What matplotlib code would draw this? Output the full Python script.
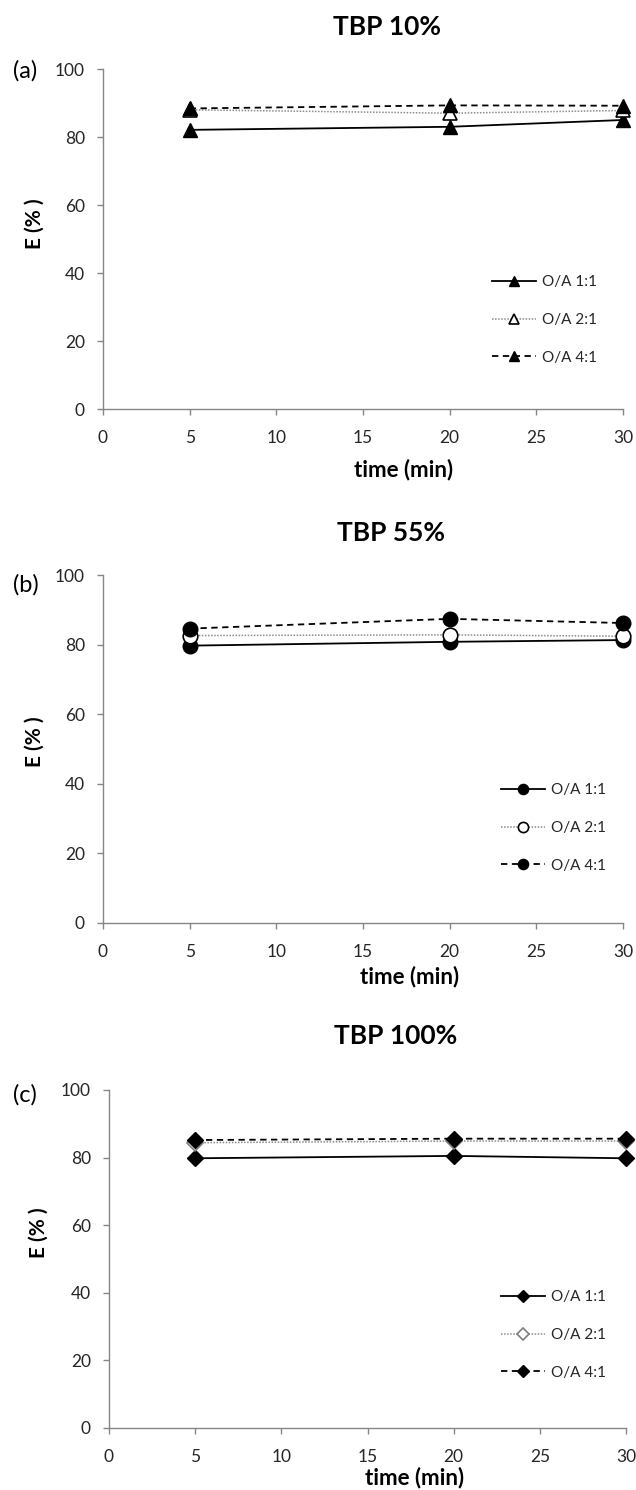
import matplotlib; matplotlib.use("Agg"); import matplotlib.pyplot as plt

plt.rcParams['font.family'] = ['Lato', 'DejaVu Sans']

# ═══════ Data ═══════
time_min = [5, 20, 30]
series_labels = ["O/A 1:1", "O/A 2:1", "O/A 4:1"]

tbp10_oa11 = [82.1, 83.0, 85.0]
tbp10_oa21 = [88.0, 87.0, 87.8]
tbp10_oa41 = [88.4, 89.3, 89.2]

tbp55_oa11 = [79.7, 80.8, 81.3]
tbp55_oa21 = [82.6, 82.8, 82.4]
tbp55_oa41 = [84.6, 87.4, 86.2]

tbp100_oa11 = [79.8, 80.5, 79.8]
tbp100_oa21 = [84.4, 84.9, 84.9]
tbp100_oa41 = [85.2, 85.6, 85.6]

titles = ["TBP 10%", "TBP 55%", "TBP 100%"]
tags = ["(a)", "(b)", "(c)"]
x_ticks = [0, 5, 10, 15, 20, 25, 30]
y_ticks = [0, 20, 40, 60, 80, 100]

# ═══════ Layout (pixels of a 636x1490 canvas) ═══════
W, H = 636, 1490
fx = lambda px: px / W
fy = lambda py: 1 - py / H

panels = [
    # data, marker, open-marker edge, axes box (l, r, top, bottom), title xy, tag xy, xlabel xy, ylabel y, legend anchor
    dict(data=(tbp10_oa11, tbp10_oa21, tbp10_oa41), m="^", ms=10, ec2="black",
         box=(103, 623, 69, 409), title=(387, 27), tag=(25, 71), xlab=(404, 470),
         ylab=(35, 224), leg=(492, 320)),
    dict(data=(tbp55_oa11, tbp55_oa21, tbp55_oa41), m="o", ms=10.5, ec2="black",
         box=(103, 623, 575, 923), title=(391, 533), tag=(26, 585), xlab=(410, 977),
         ylab=(35, 742), leg=(501, 828)),
    dict(data=(tbp100_oa11, tbp100_oa21, tbp100_oa41), m="D", ms=8.5, ec2="#7f7f7f",
         box=(109, 626, 1090, 1428), title=(396, 1036), tag=(25, 1095), xlab=(415, 1478),
         ylab=(39, 1233), leg=(501, 1335)),
]

txt = "#262626"
grey = "#868686"

fig = plt.figure(figsize=(W / 100, H / 100), dpi=100)

for i, p in enumerate(panels):
    l, r, t, b = p["box"]
    ax = fig.add_axes([fx(l), fy(b), fx(r) - fx(l), fy(t) - fy(b)])
    s11, s21, s41 = p["data"]

    h1, = ax.plot(time_min, s11, color="black", lw=1.3, ls="-",
                  marker=p["m"], ms=p["ms"], mfc="black", mec="black", clip_on=False, zorder=3)
    h2, = ax.plot(time_min, s21, color="#8c8c8c", lw=1.1, ls=(0, (1, 1)),
                  marker=p["m"], ms=p["ms"], mfc="white", mec=p["ec2"], mew=1.2,
                  clip_on=False, zorder=4)
    h3, = ax.plot(time_min, s41, color="black", lw=1.3, ls=(0, (3.5, 2.5)),
                  marker=p["m"], ms=p["ms"], mfc="black", mec="black", clip_on=False, zorder=5)

    ax.set_xlim(0, 30)
    ax.set_ylim(0, 100)
    ax.set_xticks(x_ticks)
    ax.set_yticks(y_ticks)
    for side in ("top", "right"):
        ax.spines[side].set_visible(False)
    for side in ("left", "bottom"):
        ax.spines[side].set_color(grey)
        ax.spines[side].set_linewidth(1.0)
    ax.tick_params(axis="both", direction="out", length=4, width=1.0, color=grey,
                   labelsize=12.5, labelcolor=txt)
    ax.tick_params(axis="x", pad=11)
    ax.tick_params(axis="y", pad=9)

    lx, ly = p["leg"]
    ax.legend([h1, h2, h3], series_labels, loc="center left",
              bbox_to_anchor=((lx - l) / (r - l), (b - ly) / (b - t)),
              frameon=False, fontsize=11, handlelength=2.9, handletextpad=0.35,
              labelspacing=1.55, borderpad=0, borderaxespad=0, markerscale=0.7,
              labelcolor=txt)

    fig.text(fx(p["title"][0]), fy(p["title"][1]), titles[i], ha="center", va="center",
             fontsize=19, fontweight="bold", color="black")
    fig.text(fx(p["tag"][0]), fy(p["tag"][1]), tags[i], ha="center", va="center",
             fontsize=17, color="black")
    fig.text(fx(p["xlab"][0]), fy(p["xlab"][1]), "time (min)", ha="center", va="center",
             fontsize=16, fontweight="bold", color="black")
    fig.text(fx(p["ylab"][0]), fy(p["ylab"][1]), "E (% )", ha="center", va="center",
             rotation=90, fontsize=15, fontweight="bold", color="black")

plt.savefig("out.png", dpi=100)
